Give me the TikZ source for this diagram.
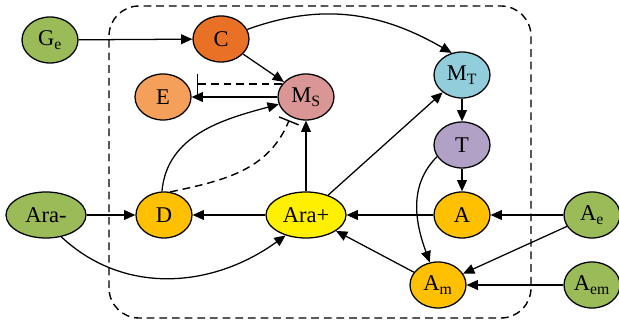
\documentclass[tikz,border=0pt]{standalone}
\usepackage{fontspec}
\setmainfont{Liberation Serif}
\usetikzlibrary{shapes.geometric,arrows.meta,decorations.markings}

\definecolor{envgreen}{RGB}{155,187,89}
\definecolor{corange}{RGB}{232,113,37}
\definecolor{eorange}{RGB}{245,160,90}
\definecolor{mspink}{RGB}{217,150,148}
\definecolor{mtblue}{RGB}{146,205,220}
\definecolor{tpurple}{RGB}{178,161,199}
\definecolor{gold}{RGB}{255,192,0}
\definecolor{arayellow}{RGB}{255,240,0}

\begin{document}
\begin{tikzpicture}[
    state/.style={draw, ellipse, line width=0.9pt, minimum width=1.4cm, minimum height=1.15cm, inner sep=0pt, font=\fontsize{16}{18}\selectfont},
    wide/.style={state, minimum width=2cm},
    arrow/.style={-{Triangle[length=8pt, width=7pt]}, line width=0.9pt},
    inhib/.style={line width=1pt, dash pattern=on 5.5pt off 3.5pt,
        postaction={decorate, decoration={markings,
            mark=at position 0.999 with {\draw[solid, line width=1pt] (0,-7.5pt) -- (0,7.5pt);}}}}
]
    \useasboundingbox (0,0) rectangle (15.475,8.175);

    % Zellgrenze
    \draw[line width=1pt, dash pattern=on 5.5pt off 3.5pt, rounded corners=0.75cm] (2.725,0.225) rectangle (13.275,8.025);

    % obere Reihe
    \node[state, fill=envgreen] (ge) at (1.25,7.175) {G\textsubscript{e}};
    \node[state, fill=corange] (c) at (5.525,7.2) {C};
    \node[state, fill=eorange] (e) at (4.075,5.75) {E};
    \node[state, fill=mspink] (ms) at (7.65,5.75) {M\textsubscript{S}};
    \node[state, fill=mtblue] (mt) at (11.55,6.3) {M\textsubscript{T}};
    \node[state, fill=tpurple] (t) at (11.55,4.55) {T};

    % mittlere Reihe
    \node[wide, fill=envgreen] (araminus) at (1.15,2.8) {Ara-};
    \node[state, fill=gold] (d) at (4.1,2.8) {D};
    \node[wide, fill=arayellow] (araplus) at (7.65,2.8) {Ara+};
    \node[state, fill=gold] (a) at (11.55,2.8) {A};
    \node[state, fill=envgreen] (ae) at (14.8,2.8) {A\textsubscript{e}};

    % untere Reihe
    \node[state, fill=gold] (am) at (10.95,1.05) {A\textsubscript{m}};
    \node[state, fill=envgreen] (aem) at (14.8,1.05) {A\textsubscript{em}};

    % Aktivierung
    \draw[arrow] (ge) -- (c);
    \draw[arrow] (c) -- (ms);
    \draw[arrow] (c.20) to[out=20, in=150] (mt.115);
    \draw[arrow] (ms) -- (e);
    \draw[arrow] (d.95) to[out=85, in=195] (ms.195);
    \draw[arrow] (araplus) -- (ms);
    \draw[arrow] (araplus) -- (mt);
    \draw[arrow] (araplus) -- (d);
    \draw[arrow] (araminus) -- (d);
    \draw[arrow] (araminus.-55) to[out=-43, in=-144] (araplus.-135);
    \draw[arrow] (mt) -- (t);
    \draw[arrow] (t) -- (a);
    \draw[arrow] (t.205) to[out=225, in=110] (am.110);
    \draw[arrow] (a) -- (araplus);
    \draw[arrow] (am) -- (araplus);
    \draw[arrow] (ae) -- (a);
    \draw[arrow] (ae) -- (am);
    \draw[arrow] (aem) -- (am);

    % Hemmung
    \draw[inhib] (ms.152) -- ([xshift=4pt]ms.152 -| e.east);
    \draw[inhib] (d.75) to[out=12, in=-112] ([shift={(-112:3pt)}]ms.232);
\end{tikzpicture}
\end{document}
